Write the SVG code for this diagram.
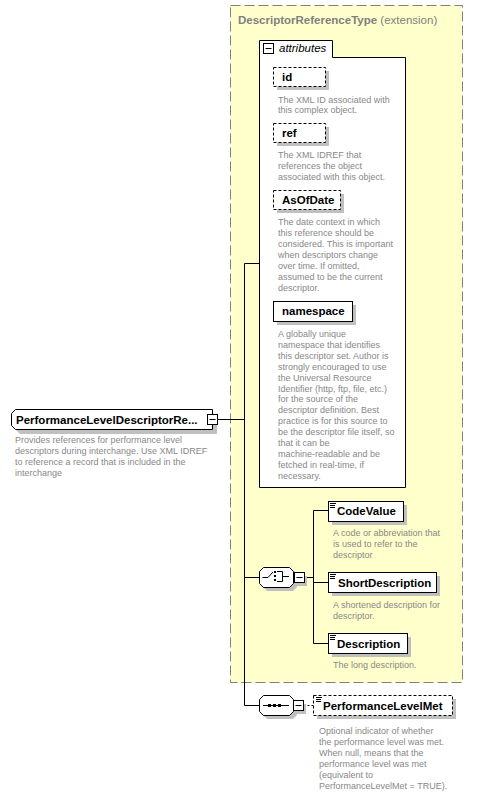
<svg xmlns="http://www.w3.org/2000/svg" width="486" height="793" viewBox="0 0 486 793">
<style>
.desc{font-family:"Liberation Sans",Arial,sans-serif;font-size:9px;fill:#888888}
.lbl{font-family:"Liberation Sans",Arial,sans-serif;font-size:11.5px;font-weight:bold;fill:#000000}
.box{fill:#ffffff;stroke:#000000;stroke-width:1}
.opt{stroke-dasharray:3,2}
.shadow{fill:#c0c0c0}
.line{stroke:#000000;stroke-width:1;fill:none}
.icon{fill:#000000}
</style>
<rect width="486" height="793" fill="#ffffff"/>

<g id="extension">
  <rect x="230.5" y="5.5" width="232" height="677" fill="#ffffcc" stroke="#808080" stroke-width="1" stroke-dasharray="10,4"/>
  <text x="238" y="24" font-family="Liberation Sans, Arial, sans-serif" font-size="11.5" fill="#808080"><tspan font-weight="bold">DescriptorReferenceType</tspan> (extension)</text>
</g>

<g id="attributes">
  <path class="box" d="M259.5,487.5 V40.5 H332.5 V57.5 H405.5 V487.5 Z"/>
  <rect class="box" x="263.5" y="43.5" width="10" height="10"/>
  <path class="line" d="M265.5,48.5 H271.5"/>
  <text x="279" y="52" font-family="Liberation Sans, Arial, sans-serif" font-size="11.5" font-style="italic" fill="#000">attributes</text>
</g>

<g id="attr-id">
  <rect class="shadow" x="277" y="71" width="52" height="19"/>
  <rect class="box opt" x="273.5" y="67.5" width="52" height="19"/>
  <text class="lbl" x="282" y="81">id</text>
  <text class="desc" x="278" y="102.5">The XML ID associated with</text>
  <text class="desc" x="278" y="113">this complex object.</text>
</g>

<g id="attr-ref">
  <rect class="shadow" x="277" y="127" width="52" height="19"/>
  <rect class="box opt" x="273.5" y="123.5" width="52" height="19"/>
  <text class="lbl" x="282" y="137">ref</text>
  <text class="desc" x="278" y="158">The XML IDREF that</text>
  <text class="desc" x="278" y="169">references the object</text>
  <text class="desc" x="278" y="180">associated with this object.</text>
</g>

<g id="attr-asofdate">
  <rect class="shadow" x="277" y="194" width="67" height="19"/>
  <rect class="box opt" x="273.5" y="190.5" width="67" height="19"/>
  <text class="lbl" x="282" y="204">AsOfDate</text>
  <text class="desc" x="278" y="224.5">The date context in which</text>
  <text class="desc" x="278" y="235.5">this reference should be</text>
  <text class="desc" x="278" y="246.5">considered. This is important</text>
  <text class="desc" x="278" y="257.5">when descriptors change</text>
  <text class="desc" x="278" y="268.5">over time. If omitted,</text>
  <text class="desc" x="278" y="279.5">assumed to be the current</text>
  <text class="desc" x="278" y="290.5">descriptor.</text>
</g>

<g id="attr-namespace">
  <rect class="shadow" x="277" y="305" width="79" height="20"/>
  <rect class="box" x="273.5" y="301.5" width="79" height="20"/>
  <text class="lbl" x="282" y="315">namespace</text>
  <text class="desc" x="278" y="337">A globally unique</text>
  <text class="desc" x="278" y="348">namespace that identifies</text>
  <text class="desc" x="278" y="358.5">this descriptor set. Author is</text>
  <text class="desc" x="278" y="369.5">strongly encouraged to use</text>
  <text class="desc" x="278" y="380.5">the Universal Resource</text>
  <text class="desc" x="278" y="391.5">Identifier (http, ftp, file, etc.)</text>
  <text class="desc" x="278" y="402">for the source of the</text>
  <text class="desc" x="278" y="413">descriptor definition. Best</text>
  <text class="desc" x="278" y="424">practice is for this source to</text>
  <text class="desc" x="278" y="435">be the descriptor file itself, so</text>
  <text class="desc" x="278" y="446">that it can be</text>
  <text class="desc" x="278" y="457">machine-readable and be</text>
  <text class="desc" x="278" y="468">fetched in real-time, if</text>
  <text class="desc" x="278" y="479">necessary.</text>
</g>

<g id="connectors">
  <path class="line" d="M217.5,419.5 H244.5"/>
  <path class="line" d="M244.5,263.5 V705.5"/>
  <path class="line" d="M244.5,263.5 H259.5"/>
  <path class="line" d="M244.5,577.5 H259.5"/>
  <path class="line" d="M244.5,705.5 H259.5"/>
  <path class="line" d="M304.5,577.5 H313.5"/>
  <path class="line" d="M313.5,510.5 V643.5"/>
  <path class="line" d="M313.5,510.5 H328.5"/>
  <path class="line" d="M313.5,582.5 H328.5"/>
  <path class="line" d="M313.5,643.5 H328.5"/>
  <path class="line" d="M303.5,705.5 H313.5" stroke-dasharray="2,2"/>
</g>

<g id="root-element">
  <path class="shadow" d="M20,414 H217 V434 H20 L16,430 V418 Z"/>
  <path class="box" d="M15.5,409.5 H212.5 V429.5 H15.5 L11.5,425.5 V413.5 Z"/>
  <text class="lbl" x="16" y="424">PerformanceLevelDescriptorRe...</text>
  <rect class="box" x="207.5" y="414.5" width="10" height="10"/>
  <path class="line" d="M209.5,419.5 H215.5"/>
  <text class="desc" x="15" y="443">Provides references for performance level</text>
  <text class="desc" x="15" y="454">descriptors during interchange. Use XML IDREF</text>
  <text class="desc" x="15" y="465">to reference a record that is included in the</text>
  <text class="desc" x="15" y="476">interchange</text>
</g>

<g id="choice">
  <path class="shadow" d="M267,571 H293 L297,575 V587 L293,591 H267 L263,587 V575 Z"/>
  <path class="box" d="M263.5,567.5 H289.5 L293.5,571.5 V583.5 L289.5,587.5 H263.5 L259.5,583.5 V571.5 Z"/>
  <path class="line" d="M262.5,577.5 H268 L273,572"/>
  <rect class="icon" x="274" y="571" width="2" height="2"/>
  <rect class="icon" x="274" y="575" width="2" height="2"/>
  <rect class="icon" x="274" y="579" width="2" height="2"/>
  <path class="line" d="M277,571.5 H282.5 V581.5 H277 M282.5,576.5 H289"/>
  <rect class="shadow" x="297" y="576" width="10" height="10"/>
  <rect class="box" x="294.5" y="572.5" width="10" height="10"/>
  <path class="line" d="M296.5,577.5 H302.5"/>
</g>

<g id="el-codevalue">
  <rect class="shadow" x="332" y="505" width="75" height="20"/>
  <rect class="box" x="328.5" y="501.5" width="75" height="20"/>
  <rect class="icon" x="330" y="503" width="6" height="1"/>
  <rect class="icon" x="330" y="505" width="5" height="1"/>
  <rect class="icon" x="330" y="507" width="5" height="1"/>
  <text class="lbl" x="337" y="515">CodeValue</text>
  <text class="desc" x="333" y="536">A code or abbreviation that</text>
  <text class="desc" x="333" y="547">is used to refer to the</text>
  <text class="desc" x="333" y="558">descriptor</text>
</g>

<g id="el-shortdescription">
  <rect class="shadow" x="332" y="576" width="108" height="20"/>
  <rect class="box" x="328.5" y="572.5" width="108" height="20"/>
  <rect class="icon" x="330" y="574" width="6" height="1"/>
  <rect class="icon" x="330" y="576" width="5" height="1"/>
  <rect class="icon" x="330" y="578" width="5" height="1"/>
  <text class="lbl" x="338" y="586.5">ShortDescription</text>
  <text class="desc" x="333" y="608">A shortened description for</text>
  <text class="desc" x="333" y="619">descriptor.</text>
</g>

<g id="el-description">
  <rect class="shadow" x="332" y="637" width="79" height="20"/>
  <rect class="box" x="328.5" y="633.5" width="79" height="20"/>
  <rect class="icon" x="330" y="635" width="6" height="1"/>
  <rect class="icon" x="330" y="637" width="5" height="1"/>
  <rect class="icon" x="330" y="639" width="5" height="1"/>
  <text class="lbl" x="337" y="647.5">Description</text>
  <text class="desc" x="333" y="668">The long description.</text>
</g>

<g id="sequence">
  <path class="shadow" d="M267,699 H293 L297,703 V715 L293,719 H267 L263,715 V703 Z"/>
  <path class="box" d="M263.5,695.5 H289.5 L293.5,699.5 V711.5 L289.5,715.5 H263.5 L259.5,711.5 V699.5 Z"/>
  <path class="line" d="M263,705.5 H289"/>
  <rect class="icon" x="268" y="704" width="3" height="3"/>
  <rect class="icon" x="273" y="704" width="3" height="3"/>
  <rect class="icon" x="278" y="704" width="3" height="3"/>
  <rect class="shadow" x="296" y="704" width="10" height="10"/>
  <rect class="box" x="293.5" y="700.5" width="10" height="10"/>
  <path class="line" d="M295.5,705.5 H301.5"/>
</g>

<g id="el-performancelevelmet">
  <rect class="shadow" x="317" y="699" width="139" height="20"/>
  <rect class="box opt" x="313.5" y="695.5" width="139" height="20"/>
  <rect class="icon" x="316" y="697" width="6" height="1"/>
  <rect class="icon" x="316" y="699" width="5" height="1"/>
  <rect class="icon" x="316" y="701" width="5" height="1"/>
  <text class="lbl" x="323" y="709.5">PerformanceLevelMet</text>
  <text class="desc" x="319" y="734">Optional indicator of whether</text>
  <text class="desc" x="319" y="745">the performance level was met.</text>
  <text class="desc" x="319" y="756"> When null, means that the</text>
  <text class="desc" x="319" y="767">performance level was met</text>
  <text class="desc" x="319" y="778">(equivalent to</text>
  <text class="desc" x="319" y="789">PerformanceLevelMet = TRUE).</text>
</g>
</svg>
